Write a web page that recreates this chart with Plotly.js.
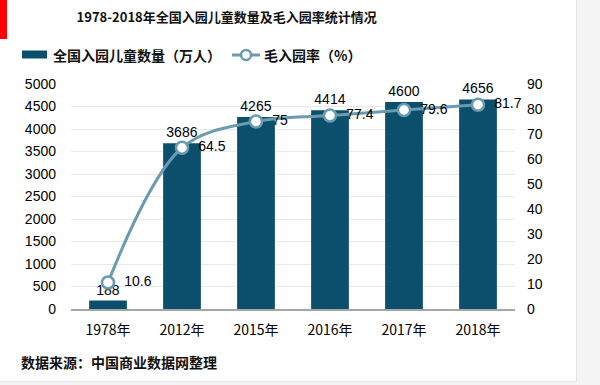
<!DOCTYPE html>
<html><head><meta charset="utf-8">
<script src="https://cdn.plot.ly/plotly-3.0.1.min.js"></script>
<style>
body{margin:0;background:#f4f4f4;}
#wrap{position:absolute;left:0;top:0;width:576px;height:381px;background:#fff;border-right:1px solid #e6e6e6;border-bottom:1px solid #e6e6e6;}
#chart{width:576px;height:381px;}
#redbar{position:absolute;left:0;top:0;width:7px;height:39px;background:#ff0000;z-index:5;}
</style></head>
<body>
<div id="wrap"><div id="redbar"></div><div id="chart"></div></div>
<script>
const categories = ['1978年','2012年','2015年','2016年','2017年','2018年'];
const children = [188, 3686, 4265, 4414, 4600, 4656];
const grossRate = [10.6, 64.5, 75, 77.4, 79.6, 81.7];
const leftTicks = [0,500,1000,1500,2000,2500,3000,3500,4000,4500,5000];
const rightTicks = [0,10,20,30,40,50,60,70,80,90];
const seriesNames = ['全国入园儿童数量（万人）','毛入园率（%）'];

const fontCJK = '"Noto Sans CJK SC", "Liberation Sans", Arial, sans-serif';
const fontNum = '"Liberation Sans", Arial, sans-serif';
const barColor = '#0b4f6c';
const lineColor = '#6b9bb1';

const traces = [
  {
    type:'bar', x:categories, y:children, name:seriesNames[0],
    marker:{color:barColor}, text:children.map(String), textposition:'outside',
    textfont:{family:fontNum,size:14,color:'#000'}, cliponaxis:false, hoverinfo:'skip'
  },
  {
    type:'scatter', mode:'lines+markers+text', x:categories, y:grossRate, yaxis:'y2',
    name:seriesNames[1], line:{color:lineColor,width:3,shape:'spline',smoothing:1},
    marker:{size:12,color:'#ffffff',line:{color:lineColor,width:2.5}},
    text:grossRate.map(v => '  ' + v), textposition:'middle right',
    textfont:{family:fontNum,size:14,color:'#000'}, cliponaxis:false
  }
];

// plot area: x 71..515, y 84..309
const px = v => (v - 71) / 444;
const py = v => (309 - v) / 225;

const layout = {
  width:576, height:381,
  margin:{l:71,r:61,t:84,b:72},
  paper_bgcolor:'rgba(0,0,0,0)', plot_bgcolor:'rgba(0,0,0,0)',
  bargap:0.49,
  showlegend:false,
  title:{text:'1978-2018年全国入园儿童数量及毛入园率统计情况', xref:'container', x:0.133, xanchor:'left', y:0.953, yanchor:'middle',
    font:{family:fontCJK,size:13,color:'#111',weight:'bold'}},
  xaxis:{type:'category', showgrid:false, showline:true, linecolor:'#a6a6a6', linewidth:2,
    ticks:'outside', ticklen:7, tickcolor:'rgba(0,0,0,0)',
    tickfont:{family:fontCJK,size:14,color:'#000'}},
  yaxis:{range:[0,5000], tickvals:leftTicks, ticktext:leftTicks.map(String), showgrid:true, gridcolor:'#e8e8e8', zeroline:false,
    tickfont:{family:fontNum,size:14,color:'#000'}, ticklabelstandoff:14},
  yaxis2:{range:[0,90], tickvals:rightTicks, overlaying:'y', side:'right', showgrid:false, zeroline:false,
    tickfont:{family:fontNum,size:14,color:'#000'}, ticklabelstandoff:11},
  shapes:[
    {type:'rect', xref:'paper', yref:'paper', x0:px(22), x1:px(47), y0:py(58.5), y1:py(50.5), fillcolor:barColor, line:{width:0}},
    {type:'line', xref:'paper', yref:'paper', x0:px(232), x1:px(260), y0:py(55), y1:py(55), line:{color:lineColor,width:3}},
    {type:'circle', xref:'paper', yref:'paper', x0:px(241), x1:px(251), y0:py(60), y1:py(50), fillcolor:'#fff', line:{color:lineColor,width:2.5}}
  ],
  annotations:[
    {text:seriesNames[0], xref:'paper', yref:'paper', x:px(51), y:py(55), xanchor:'left', yanchor:'middle',
      showarrow:false, font:{family:fontCJK,size:14,color:'#111',weight:'bold'}},
    {text:seriesNames[1], xref:'paper', yref:'paper', x:px(262), y:py(55), xanchor:'left', yanchor:'middle',
      showarrow:false, font:{family:fontCJK,size:14,color:'#111',weight:'bold'}},
    {text:'数据来源：中国商业数据网整理', xref:'paper', yref:'paper', x:px(19), y:py(362), xanchor:'left', yanchor:'middle',
      showarrow:false, font:{family:fontCJK,size:14,color:'#111',weight:'bold'}}
  ]
};
Plotly.newPlot('chart', traces, layout, {displayModeBar:false, staticPlot:true});
</script>
</body></html>
